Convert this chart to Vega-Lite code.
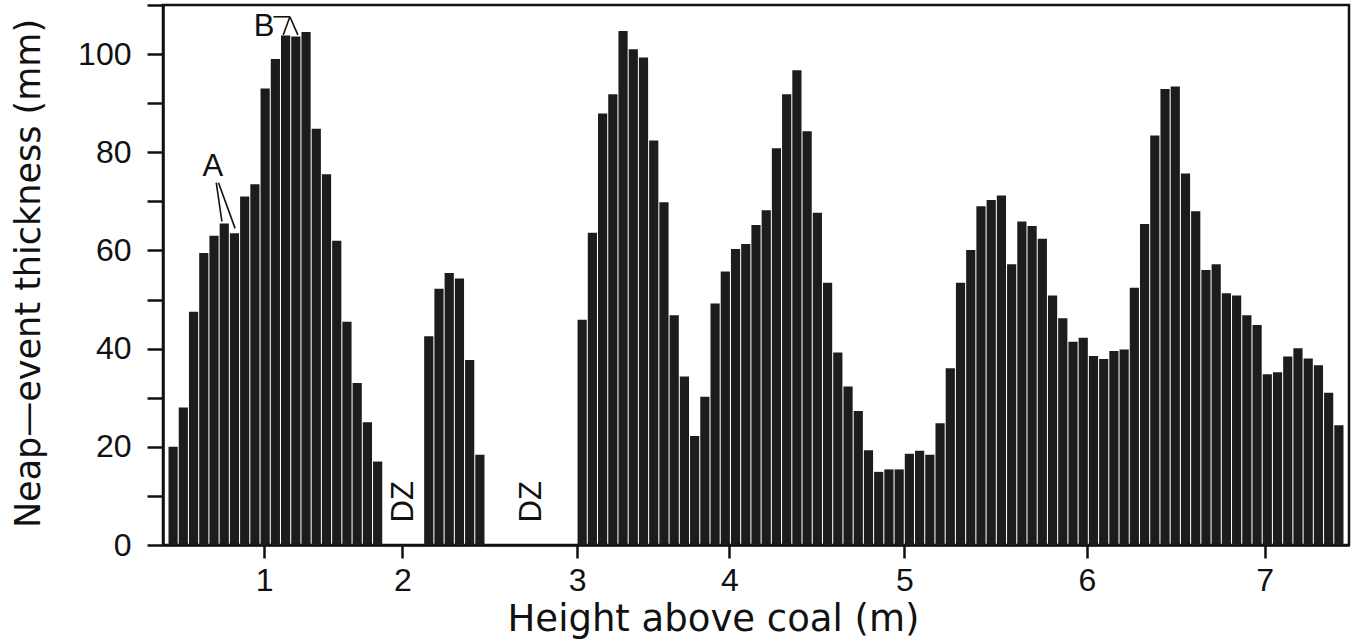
{
  "$schema": "https://vega.github.io/schema/vega-lite/v6.json",
  "width": 1186,
  "height": 540,
  "autosize": {"type": "none"},
  "padding": {"left": 163, "top": 5, "right": 8, "bottom": 94},
  "background": "white",
  "config": {
    "view": {"stroke": "#111", "strokeWidth": 2.5},
    "axis": {"domainColor": "#111", "domainWidth": 2.5, "tickColor": "#111", "tickWidth": 2.5, "grid": false, "labelColor": "#111", "titleColor": "#111", "labelFont": "Liberation Sans", "titleFont": "DejaVu Sans", "titleFontWeight": "normal"}
  },
  "datasets": {
    "bars": [
      {"e": 1, "t": 20}, {"e": 2, "t": 28}, {"e": 3, "t": 47.5}, {"e": 4, "t": 59.5}, {"e": 5, "t": 63}, {"e": 6, "t": 65.5}, {"e": 7, "t": 63.5}, {"e": 8, "t": 71}, {"e": 9, "t": 73.5}, {"e": 10, "t": 93}, {"e": 11, "t": 99}, {"e": 12, "t": 103.8}, {"e": 13, "t": 103.6}, {"e": 14, "t": 104.5}, {"e": 15, "t": 84.8}, {"e": 16, "t": 75.5}, {"e": 17, "t": 62}, {"e": 18, "t": 45.5}, {"e": 19, "t": 33}, {"e": 20, "t": 25}, {"e": 21, "t": 17},
      {"e": 26, "t": 42.5}, {"e": 27, "t": 52.2}, {"e": 28, "t": 55.4}, {"e": 29, "t": 54.3}, {"e": 30, "t": 37.7}, {"e": 31, "t": 18.4},
      {"e": 41, "t": 45.9}, {"e": 42, "t": 63.6}, {"e": 43, "t": 87.9}, {"e": 44, "t": 91.8}, {"e": 45, "t": 104.7}, {"e": 46, "t": 101}, {"e": 47, "t": 99.3}, {"e": 48, "t": 82.4}, {"e": 49, "t": 69.8}, {"e": 50, "t": 46.8},
      {"e": 51, "t": 34.3}, {"e": 52, "t": 22.2}, {"e": 53, "t": 30.2}, {"e": 54, "t": 49.2}, {"e": 55, "t": 55.7}, {"e": 56, "t": 60.3}, {"e": 57, "t": 61.3}, {"e": 58, "t": 65.2}, {"e": 59, "t": 68.2}, {"e": 60, "t": 80.8},
      {"e": 61, "t": 91.8}, {"e": 62, "t": 96.7}, {"e": 63, "t": 84.3}, {"e": 64, "t": 67.7}, {"e": 65, "t": 53.4}, {"e": 66, "t": 39.2}, {"e": 67, "t": 32.3}, {"e": 68, "t": 27.3}, {"e": 69, "t": 19.3}, {"e": 70, "t": 14.9},
      {"e": 71, "t": 15.4}, {"e": 72, "t": 15.4}, {"e": 73, "t": 18.6}, {"e": 74, "t": 19.2}, {"e": 75, "t": 18.4}, {"e": 76, "t": 24.8}, {"e": 77, "t": 36}, {"e": 78, "t": 53.4}, {"e": 79, "t": 60.1}, {"e": 80, "t": 69},
      {"e": 81, "t": 70.3}, {"e": 82, "t": 71.2}, {"e": 83, "t": 57.2}, {"e": 84, "t": 65.9}, {"e": 85, "t": 65}, {"e": 86, "t": 62.4}, {"e": 87, "t": 50.8}, {"e": 88, "t": 46.2}, {"e": 89, "t": 41.4}, {"e": 90, "t": 42.2},
      {"e": 91, "t": 38.5}, {"e": 92, "t": 37.9}, {"e": 93, "t": 39.5}, {"e": 94, "t": 39.8}, {"e": 95, "t": 52.4}, {"e": 96, "t": 65.4}, {"e": 97, "t": 83.4}, {"e": 98, "t": 92.9}, {"e": 99, "t": 93.4}, {"e": 100, "t": 75.7},
      {"e": 101, "t": 68}, {"e": 102, "t": 56}, {"e": 103, "t": 57.2}, {"e": 104, "t": 51.3}, {"e": 105, "t": 50.8}, {"e": 106, "t": 46.8}, {"e": 107, "t": 44.8}, {"e": 108, "t": 34.8}, {"e": 109, "t": 35.2}, {"e": 110, "t": 38.4},
      {"e": 111, "t": 40.1}, {"e": 112, "t": 38}, {"e": 113, "t": 36.6}, {"e": 114, "t": 31}, {"e": 115, "t": 24.4}
    ],
    "labels": [
      {"e": 4.89, "t": 77, "label": "A", "angle": 0},
      {"e": 9.9, "t": 105.6, "label": "B", "angle": 0},
      {"e": 23.57, "t": 8.8, "label": "DZ", "angle": 270},
      {"e": 36.08, "t": 8.8, "label": "DZ", "angle": 270}
    ],
    "leaders": [
      {"x1": 5.22, "y1": 73.8, "x2": 5.77, "y2": 65.9},
      {"x1": 5.44, "y1": 73.8, "x2": 7.06, "y2": 64.5},
      {"x1": 10.81, "y1": 107.6, "x2": 12.42, "y2": 107.6},
      {"x1": 12.42, "y1": 107.6, "x2": 11.77, "y2": 103.9},
      {"x1": 12.42, "y1": 107.6, "x2": 13.2, "y2": 103.9}
    ]
  },
  "layer": [
    {
      "data": {"name": "bars"},
      "mark": {"type": "bar", "width": 9.2, "color": "#1c1c1c"},
      "encoding": {
        "x": {
          "field": "e", "type": "quantitative", "title": "Height above coal (m)",
          "scale": {"domain": [0.5, 115.5], "nice": false, "zero": false},
          "axis": {
            "values": [9.9, 23.41, 40.5, 55.4, 72.52, 90.36, 107.74],
            "labelExpr": "datum.value < 15 ? '1' : datum.value < 30 ? '2' : datum.value < 48 ? '3' : datum.value < 63 ? '4' : datum.value < 80 ? '5' : datum.value < 100 ? '6' : '7'",
            "tickSize": 13, "labelPadding": 7, "labelFontSize": 32, "labelDx": 8, "labelFlush": false, "labelOverlap": false,
            "titleFontSize": 37, "titleX": 550, "titleY": 85, "titleBaseline": "alphabetic", "titleAlign": "center"
          }
        },
        "y": {
          "field": "t", "type": "quantitative", "title": "Neap—event thickness (mm)",
          "scale": {"domain": [0, 110], "nice": false},
          "axis": {
            "values": [0, 10, 20, 30, 40, 50, 60, 70, 80, 90, 100, 110],
            "labelExpr": "datum.value % 20 == 0 && datum.value <= 100 ? datum.value : ''",
            "tickSize": 16, "labelPadding": 16, "labelFontSize": 32, "labelFlush": false, "labelOverlap": false,
            "titleFontSize": 35, "titleX": -135, "titleY": 268, "titleAngle": -90, "titleAlign": "center", "titleBaseline": "middle"
          }
        }
      }
    },
    {
      "data": {"name": "leaders"},
      "mark": {"type": "rule", "color": "#111", "strokeWidth": 1.6},
      "encoding": {
        "x": {"field": "x1", "type": "quantitative", "title": "Height above coal (m)"},
        "x2": {"field": "x2"},
        "y": {"field": "y1", "type": "quantitative", "title": "Neap—event thickness (mm)"},
        "y2": {"field": "y2"}
      }
    },
    {
      "data": {"name": "labels"},
      "mark": {"type": "text", "font": "Liberation Sans", "fontSize": 31, "color": "#111", "align": "center", "baseline": "middle"},
      "encoding": {
        "x": {"field": "e", "type": "quantitative", "title": "Height above coal (m)"},
        "y": {"field": "t", "type": "quantitative", "title": "Neap—event thickness (mm)"},
        "text": {"field": "label"},
        "angle": {"field": "angle", "type": "quantitative", "scale": null}
      }
    }
  ]
}
